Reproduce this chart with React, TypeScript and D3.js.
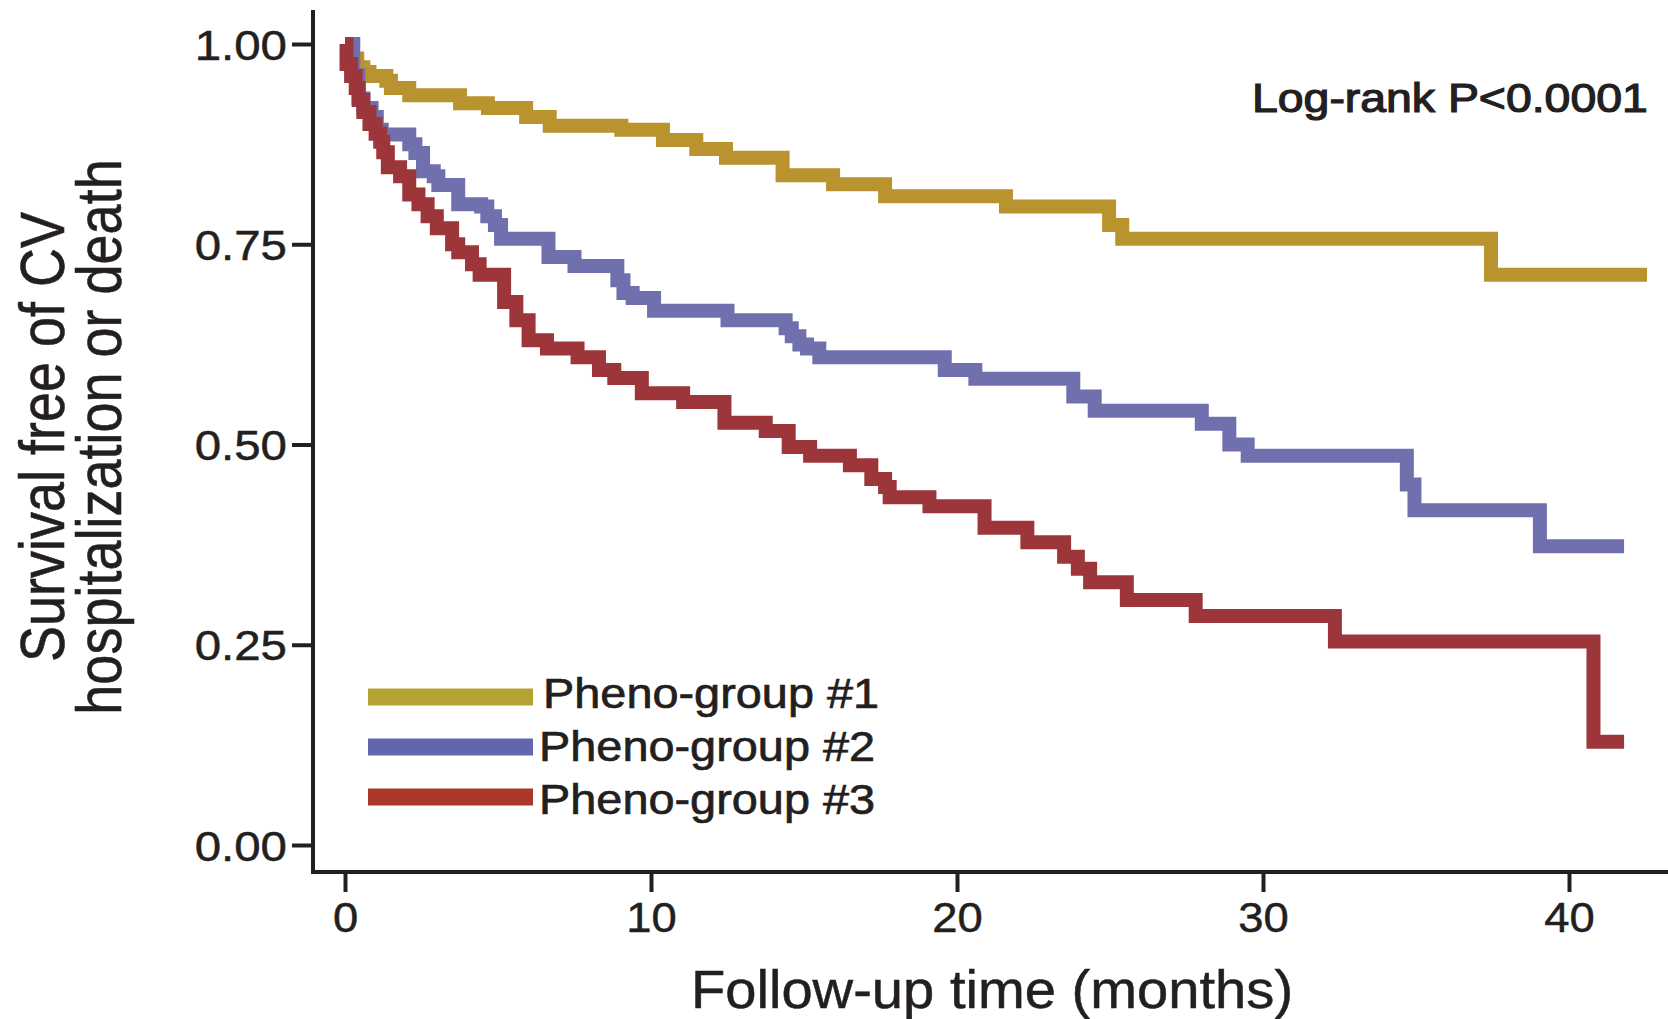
import React, { useEffect, useRef } from 'react';
import * as d3 from 'd3';

const xTicks = [0, 10, 20, 30, 40];
const yTicks = [0, 0.25, 0.5, 0.75, 1];
const groupNames = ['Pheno-group #1', 'Pheno-group #2', 'Pheno-group #3'];
const pValueLabel = 'Log-rank P<0.0001';
const xTitle = 'Follow-up time (months)';
const yTitle = ['Survival free of CV', 'hospitalization or death'];

// Kaplan-Meier steps: time in months, survival fraction
const group1Time = [0, 0.15, 0.4, 0.6, 0.8, 1.35, 1.5, 2.1, 3.76, 4.67, 5.92, 6.69, 9.03, 10.39, 11.48, 12.45, 14.3, 15.95, 17.65, 21.6, 24.97, 25.4, 37.45, 42.55];
const group1Surv = [1, 0.982, 0.971, 0.965, 0.96, 0.954, 0.945, 0.936, 0.926, 0.92, 0.909, 0.898, 0.893, 0.88, 0.869, 0.858, 0.836, 0.825, 0.81, 0.797, 0.774, 0.757, 0.712, 0.712];

const group2Time = [0, 0.27, 0.44, 0.6, 0.87, 1.04, 1.2, 2.1, 2.3, 2.55, 2.9, 3.05, 3.7, 4.45, 4.65, 4.9, 5.1, 6.65, 7.5, 8.9, 9.1, 9.4, 10.1, 12.5, 14.4, 14.6, 14.85, 15.1, 15.5, 19.6, 20.6, 23.8, 24.5, 28.0, 28.9, 29.5, 34.7, 34.95, 39.05, 41.8];
const group2Surv = [1, 0.961, 0.932, 0.92, 0.909, 0.893, 0.887, 0.875, 0.864, 0.841, 0.835, 0.824, 0.8, 0.797, 0.785, 0.774, 0.757, 0.734, 0.723, 0.705, 0.689, 0.683, 0.667, 0.655, 0.645, 0.635, 0.625, 0.62, 0.609, 0.593, 0.582, 0.56, 0.542, 0.526, 0.5, 0.486, 0.45, 0.418, 0.373, 0.373];

const group3Time = [0, 0.05, 0.2, 0.35, 0.45, 0.6, 0.8, 1.0, 1.15, 1.25, 1.4, 1.8, 2.1, 2.4, 2.7, 3.0, 3.5, 3.7, 4.15, 4.4, 5.2, 5.6, 6.0, 6.6, 7.6, 8.3, 8.8, 9.7, 11.05, 12.4, 13.75, 14.5, 15.2, 16.5, 17.2, 17.65, 17.8, 19.1, 20.9, 22.3, 23.5, 23.95, 24.35, 25.55, 27.8, 32.35, 40.8, 41.8];
const group3Surv = [1, 0.975, 0.96, 0.945, 0.93, 0.915, 0.9, 0.888, 0.878, 0.865, 0.846, 0.835, 0.812, 0.8, 0.785, 0.77, 0.75, 0.74, 0.725, 0.712, 0.678, 0.655, 0.63, 0.62, 0.609, 0.593, 0.583, 0.564, 0.553, 0.527, 0.517, 0.497, 0.486, 0.474, 0.457, 0.447, 0.434, 0.423, 0.396, 0.378, 0.36, 0.345, 0.328, 0.306, 0.286, 0.254, 0.129, 0.129];

const lineColors = ['#b9932e', '#7170af', '#9d363a'];
const legendColors = ['#b5a233', '#6366ae', '#ab3728'];

const ink = '#231f20';
const font = '"Liberation Sans", Arial, Helvetica, sans-serif';

const App = () => {
    const svgRef = useRef<SVGSVGElement | null>(null);

    useEffect(() => {
        const width = 1668;
        const height = 1019;

        const svg = d3.select(svgRef.current);
        svg.selectAll('*').remove();
        svg.attr('width', width).attr('height', height);

        svg.append('rect').attr('width', width).attr('height', height).attr('fill', '#fff');

        const x = d3.scaleLinear().domain([0, 40]).range([345, 1569]);
        const y = d3.scaleLinear().domain([0, 1]).range([845, 44]);

        const axisX = 313;
        const axisY = 872;

        // y axis ticks + labels (the printed text is a bit wide, hence the x-stretch)
        const yAxis = svg.append('g')
            .attr('transform', `translate(${axisX},0)`)
            .call(d3.axisLeft(y).tickValues(yTicks).tickSize(21).tickFormat(d3.format('.2f')));
        yAxis.select('.domain').remove();
        yAxis.style('color', ink).attr('font-family', font).attr('font-size', 42);
        yAxis.selectAll('line').attr('stroke-width', 4);
        yAxis.selectAll('text')
            .attr('x', 0)
            .attr('dy', null)
            .attr('stroke', ink)
            .attr('stroke-width', 0.5)
            .attr('transform', 'translate(-26,15) scale(1.13,1)');

        const xAxis = svg.append('g')
            .attr('transform', `translate(0,${axisY})`)
            .call(d3.axisBottom(x).tickValues(xTicks).tickSize(20).tickFormat(d3.format('d')));
        xAxis.select('.domain').remove();
        xAxis.style('color', ink).attr('font-family', font).attr('font-size', 42);
        xAxis.selectAll('line').attr('stroke-width', 4);
        xAxis.selectAll('text')
            .attr('y', 0)
            .attr('dy', null)
            .attr('stroke', ink)
            .attr('stroke-width', 0.5)
            .attr('transform', 'translate(0,60) scale(1.08,1)');

        // axis lines
        svg.append('line')
            .attr('x1', axisX).attr('x2', axisX)
            .attr('y1', 10).attr('y2', axisY + 2)
            .attr('stroke', ink).attr('stroke-width', 4);
        svg.append('line')
            .attr('x1', axisX - 2).attr('x2', width)
            .attr('y1', axisY).attr('y2', axisY)
            .attr('stroke', ink).attr('stroke-width', 4);

        // survival curves
        const series = [
            group1Time.map((t, i) => [t, group1Surv[i]]),
            group2Time.map((t, i) => [t, group2Surv[i]]),
            group3Time.map((t, i) => [t, group3Surv[i]])
        ];
        const line = d3.line<number[]>()
            .x(d => x(d[0]))
            .y(d => y(d[1]))
            .curve(d3.curveStepAfter);

        series.forEach((pts, i) => {
            svg.append('path')
                .attr('d', line(pts))
                .attr('fill', 'none')
                .attr('stroke', lineColors[i])
                .attr('stroke-width', 14)
                .attr('stroke-linejoin', 'miter');
        });

        // legend
        const legend = svg.append('g')
            .attr('font-family', font)
            .attr('fill', ink)
            .attr('stroke', ink)
            .attr('stroke-width', 0.7);
        const legendRow = d3.scaleLinear().domain([0, 2]).range([697, 797]);
        groupNames.forEach((name, i) => {
            legend.append('line')
                .attr('x1', 368).attr('x2', 533)
                .attr('y1', legendRow(i)).attr('y2', legendRow(i))
                .attr('stroke', legendColors[i])
                .attr('stroke-width', 17);
            legend.append('text')
                .attr('transform', `translate(${i === 0 ? 543 : 539},${legendRow(i) + 11 + i * 3}) scale(1.09,1)`)
                .attr('font-size', 43)
                .text(name);
        });

        svg.append('text')
            .attr('transform', 'translate(1252,112) scale(1.16,1)')
            .attr('font-family', font)
            .attr('font-size', 40)
            .attr('fill', ink)
            .attr('stroke', ink)
            .attr('stroke-width', 1.2)
            .text(pValueLabel);

        svg.append('text')
            .attr('transform', 'translate(992,1008) scale(1.04,1)')
            .attr('text-anchor', 'middle')
            .attr('font-family', font)
            .attr('font-size', 54)
            .attr('fill', ink)
            .attr('stroke', ink)
            .attr('stroke-width', 0.5)
            .text(xTitle);

        yTitle.forEach((t, i) => {
            svg.append('text')
                .attr('transform', `translate(${64 + i * 57},437) scale(1.15,1) rotate(-90)`)
                .attr('text-anchor', 'middle')
                .attr('font-family', font)
                .attr('font-size', 54)
                .attr('fill', ink)
                .attr('stroke', ink)
                .attr('stroke-width', 0.5)
                .text(t);
        });
    }, []);

    return (
        <div style={{ position: 'absolute', left: 0, top: 0 }}>
            <svg ref={svgRef} style={{ display: 'block' }}></svg>
        </div>
    );
};

export default App;
